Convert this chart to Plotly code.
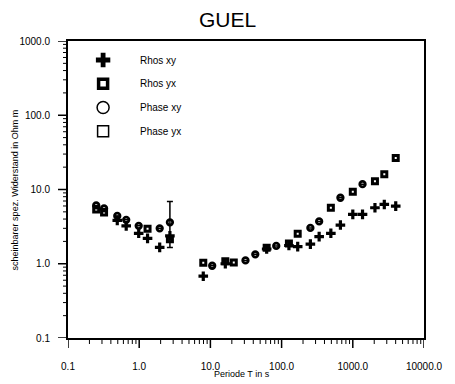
import plotly.graph_objects as go

# ---------------- data ----------------
rhos_xy_T = [0.492, 0.657, 0.984, 1.31, 1.94, 2.70,
             7.94, 16.2, 61.7, 126.7, 168.3, 253.6, 336.8, 491.7, 669.9, 1000, 1370, 2047, 2770, 4008]
rhos_xy_v = [3.84, 3.24, 2.57, 2.20, 1.66, 2.38,
             0.68, 1.00, 1.58, 1.76, 1.70, 1.84, 2.32, 2.57, 3.32, 4.62, 4.62, 5.68, 6.29, 5.97]

rhos_yx_T = [0.249, 0.321, 1.31, 2.70,
             7.94, 16.2, 21.3, 61.7, 126.7, 168.3, 491.7, 1000, 2047, 2770, 4008]
rhos_yx_v = [5.39, 4.91, 2.95, 2.13,
             1.03, 1.08, 1.04, 1.64, 1.88, 2.53, 5.68, 9.31, 12.9, 16.0, 26.6]

phase_xy_T = [0.249, 0.321, 0.492, 0.657, 0.984, 1.94, 2.70,
              10.6, 31.1, 42.7, 84.1, 253.6, 336.8, 669.9, 1370]
phase_xy_v = [6.10, 5.56, 4.41, 3.90, 3.24, 3.00, 3.61,
              0.94, 1.11, 1.34, 1.74, 3.04, 3.72, 7.74, 11.8]
phase_xy_err_plus = [None, None, None, None, None, None, 3.29,
                     None, None, None, None, None, None, None, None]
phase_xy_err_minus = [None, None, None, None, None, None, 1.95,
                      None, None, None, None, None, None, None, None]

legend_names = ["Rhos xy", "Rhos yx", "Phase xy", "Phase yx"]

x_tickvals = [0.1, 1, 10, 100, 1000, 10000]
x_ticktext = ["0.1", "1.0", "10.0", "100.0", "1000.0", "10000.0"]
y_tickvals = [0.1, 1, 10, 100, 1000]
y_ticktext = ["0.1", "1.0", "10.0", "100.0", "1000.0"]
minor_mults = [2, 3, 4, 5, 6, 7, 8, 9]
x_minor = [m * d for d in [0.1, 1, 10, 100, 1000] for m in minor_mults]
y_minor = [m * d for d in [0.1, 1, 10, 100] for m in minor_mults]

FONT = "Liberation Sans, Arial, sans-serif"
XR = [-1, 4]
YR = [-1, 3]

fig = go.Figure()

fig.add_trace(go.Scatter(
    x=rhos_yx_T, y=rhos_yx_v, mode="markers", showlegend=False,
    marker=dict(symbol="square-open", size=5, color="black", line=dict(width=3, color="black"))))
fig.add_trace(go.Scatter(
    x=phase_xy_T, y=phase_xy_v, mode="markers", showlegend=False,
    error_y=dict(type="data", symmetric=False, array=phase_xy_err_plus,
                 arrayminus=phase_xy_err_minus, color="black", thickness=1.5, width=3),
    marker=dict(symbol="circle-open", size=5.5, color="black", line=dict(width=2.8, color="black"))))
fig.add_trace(go.Scatter(
    x=rhos_xy_T, y=rhos_xy_v, mode="markers", showlegend=False,
    marker=dict(symbol="cross", size=8, color="black", line=dict(width=0))))

# legend key (positions given as fractions of the plot area)
leg_fx = 0.0986
leg_fy = [0.936, 0.856, 0.776, 0.696]
leg_symbols = ["cross", "square-open", "circle-open", "square-open"]
leg_sizes = [12, 9, 12, 11]
leg_widths = [0, 3.5, 1.5, 1.5]
for i in range(4):
    fig.add_trace(go.Scatter(
        x=[10 ** (XR[0] + leg_fx * (XR[1] - XR[0]))],
        y=[10 ** (YR[0] + leg_fy[i] * (YR[1] - YR[0]))],
        mode="markers", showlegend=False, hoverinfo="skip",
        marker=dict(symbol=leg_symbols[i], size=leg_sizes[i], color="black",
                    line=dict(width=leg_widths[i], color="black"))))
    fig.add_annotation(x=0.197, y=leg_fy[i], xref="paper", yref="paper", text=legend_names[i],
                       showarrow=False, xanchor="left", yanchor="middle",
                       font=dict(family=FONT, size=10, color="black"))

fig.add_annotation(x=0.488, y=-0.12, xref="paper", yref="paper", text="Periode T in s",
                   showarrow=False, xanchor="center", yanchor="middle",
                   font=dict(family=FONT, size=9, color="black"))
fig.add_annotation(x=-0.148, y=0.498, xref="paper", yref="paper",
                   text="scheinbarer spez. Widerstand in Ohm m", textangle=-90,
                   showarrow=False, xanchor="center", yanchor="middle",
                   font=dict(family=FONT, size=9, color="black"))

# tick marks positioned through the axes' own log scales
for v in x_tickvals:
    fig.add_shape(type="line", xref="x", x0=v, x1=v, yref="paper", ysizemode="pixel",
                  yanchor=0, y0=0, y1=-10, line=dict(color="black", width=1.5))
for v in x_minor:
    fig.add_shape(type="line", xref="x", x0=v, x1=v, yref="paper", ysizemode="pixel",
                  yanchor=0, y0=0, y1=-6, line=dict(color="black", width=1))
for v in y_tickvals:
    fig.add_shape(type="line", yref="y", y0=v, y1=v, xref="paper", xsizemode="pixel",
                  xanchor=0, x0=0, x1=-10, line=dict(color="black", width=1.5))
for v in y_minor:
    fig.add_shape(type="line", yref="y", y0=v, y1=v, xref="paper", xsizemode="pixel",
                  xanchor=0, x0=0, x1=-5, line=dict(color="black", width=1))

fig.update_layout(
    width=455, height=384,
    margin=dict(l=68, r=22, t=41, b=44),
    paper_bgcolor="white", plot_bgcolor="white",
    showlegend=False,
    title=dict(text="GUEL", x=0.5, xref="container", y=1 - 20 / 384, yref="container",
               xanchor="center", yanchor="middle",
               font=dict(family=FONT, size=21, color="black")),
    xaxis=dict(type="log", range=XR, tickmode="array", tickvals=x_tickvals, ticktext=x_ticktext,
               showgrid=False, zeroline=False, showline=True, linecolor="black", linewidth=2,
               mirror=True, ticks="outside", ticklen=18, tickwidth=1, tickcolor="rgba(0,0,0,0)",
               tickfont=dict(family=FONT, size=10, color="black")),
    yaxis=dict(type="log", range=YR, tickmode="array", tickvals=y_tickvals, ticktext=y_ticktext,
               showgrid=False, zeroline=False, showline=True, linecolor="black", linewidth=2,
               mirror=True, ticks="outside", ticklen=14, tickwidth=1, tickcolor="rgba(0,0,0,0)",
               tickfont=dict(family=FONT, size=10, color="black")),
)

fig.write_html("out.html")
